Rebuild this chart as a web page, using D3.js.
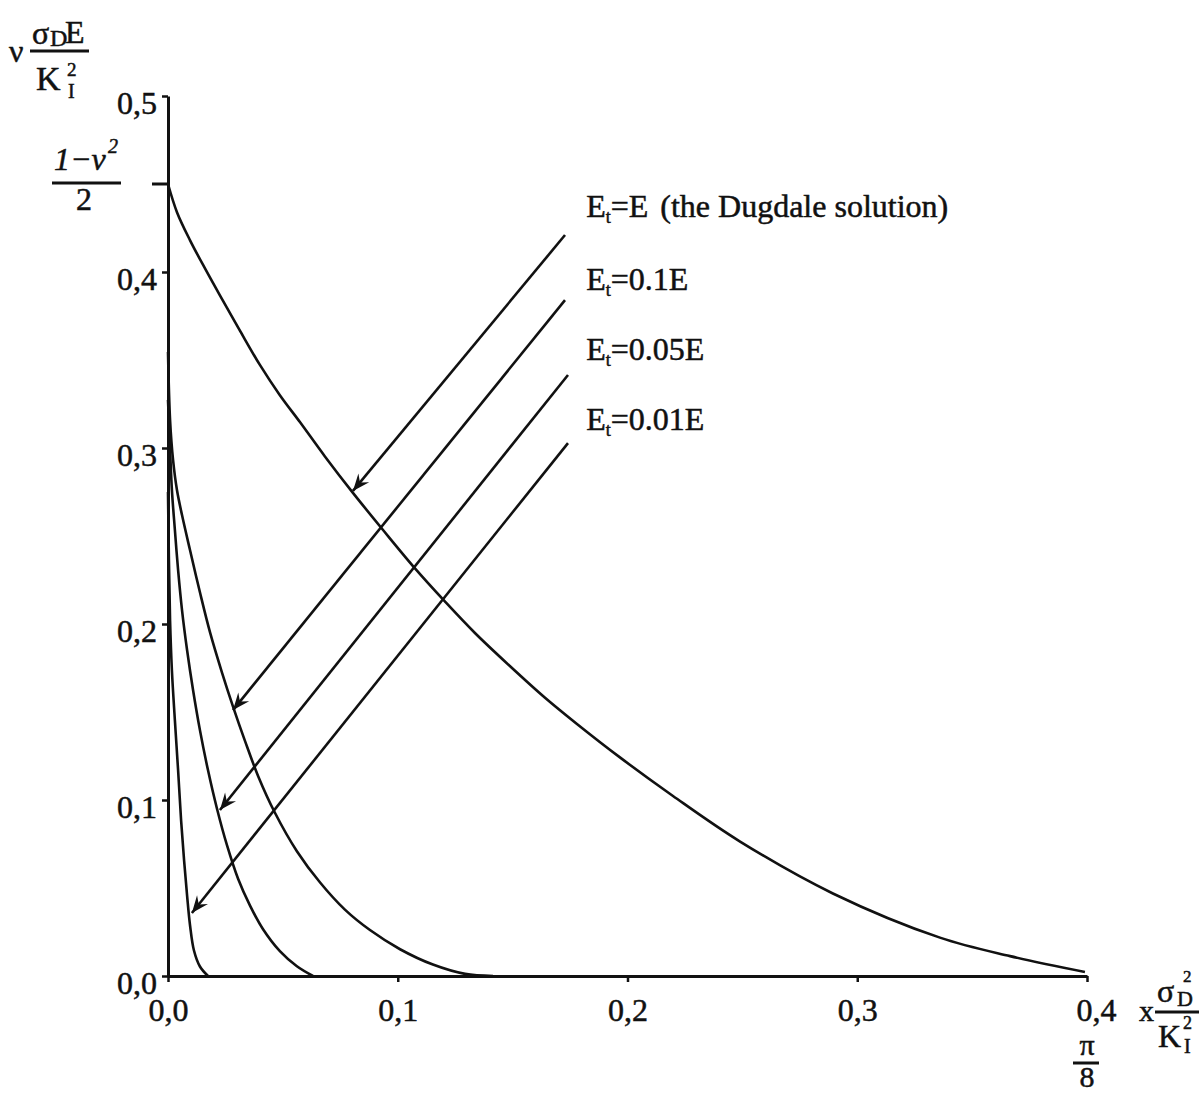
<!DOCTYPE html>
<html lang="en">
<head>
    <meta charset="UTF-8">
    <title>Crack opening: Dugdale vs hardening</title>
    <script src="https://d3js.org/d3.v7.min.js"></script>
    <style>
        body {
            margin: 0;
            padding: 0;
            background-color: white;
        }
        svg text {
            font-family: "Liberation Serif", "DejaVu Serif", serif;
            fill: #111;
            stroke: #111;
            stroke-width: 0.5px;
        }
    </style>
</head>
<body>
    <div id="chart"></div>
    <script>
        const width = 1201;
        const height = 1094;

        // tick values
        const xTicks = [0, 0.1, 0.2, 0.3, 0.4];
        const yTicks = [0, 0.1, 0.2, 0.3, 0.4, 0.5];
        const dugdaleLevel = 0.45; // (1 - nu^2) / 2

        // curves [x, y]
        const curveE = [[0, 0.45], [0.0039, 0.434], [0.0096, 0.418], [0.0161, 0.402], [0.0226, 0.3867],
            [0.0313, 0.3667], [0.040, 0.3472], [0.0487, 0.330], [0.0575, 0.3146], [0.0683, 0.2952],
            [0.0805, 0.2745], [0.0936, 0.2534], [0.1075, 0.2316], [0.1206, 0.2127], [0.1336, 0.1949],
            [0.1489, 0.176], [0.1641, 0.1581], [0.178, 0.1432], [0.1967, 0.1242], [0.2198, 0.1023],
            [0.249, 0.0764], [0.2894, 0.0469], [0.336, 0.0218], [0.3665, 0.0113], [0.3991, 0.0023]];
        const curve01E = [[0, 0.3545], [0.0009, 0.3159], [0.0022, 0.2932], [0.0039, 0.2761], [0.0061, 0.2619],
            [0.0096, 0.2419], [0.0139, 0.218], [0.0183, 0.1952], [0.0235, 0.1724], [0.0283, 0.1531],
            [0.0335, 0.1336], [0.0392, 0.1137], [0.0466, 0.0926], [0.0561, 0.0709], [0.0662, 0.0531],
            [0.077, 0.0377], [0.0879, 0.0261], [0.101, 0.0152], [0.1153, 0.0065], [0.1293, 0.0012], [0.1415, 0]];
        const curve005E = [[0, 0.3273], [0.0009, 0.2989], [0.0017, 0.2761], [0.003, 0.2534], [0.0044, 0.2306],
            [0.0061, 0.2079], [0.0083, 0.1852], [0.0109, 0.1625], [0.0139, 0.1397], [0.0174, 0.117],
            [0.0213, 0.0952], [0.0257, 0.0742], [0.0305, 0.0553], [0.0357, 0.04], [0.0413, 0.0267],
            [0.0487, 0.0141], [0.0561, 0.0055], [0.0631, 0]];
        const curve001E = [[0, 0.275], [0.0004, 0.236], [0.0009, 0.202], [0.0017, 0.1736], [0.003, 0.1452],
            [0.0044, 0.1168], [0.0057, 0.0884], [0.007, 0.0657], [0.0083, 0.0458], [0.0096, 0.0287],
            [0.0113, 0.0145], [0.0139, 0.0054], [0.0174, 0]];

        // arrows: start -> tip, and label anchor
        const arrowStarts = [[0.1728, 0.421], [0.1728, 0.384], [0.1741, 0.3415], [0.1741, 0.3028]];
        const arrowTips = [[0.0805, 0.2756], [0.0283, 0.1511], [0.0226, 0.0943], [0.0104, 0.0358]];
        const labelPos = [[0.182, 0.431], [0.182, 0.390], [0.182, 0.350], [0.182, 0.310]];
        const labelValues = ["E", "0.1E", "0.05E", "0.01E"];

        const x = d3.scaleLinear().domain([0, 0.4]).range([168, 1087]);
        const y = d3.scaleLinear().domain([0, 0.5]).range([976, 96]);
        const comma = v => d3.format(".1f")(v).replace(".", ",");

        const svg = d3.select("#chart")
            .append("svg")
            .attr("width", width)
            .attr("height", height);

        svg.append("defs").append("marker")
            .attr("id", "head")
            .attr("viewBox", "-18 -8 19 16")
            .attr("refX", 0)
            .attr("refY", 0)
            .attr("markerUnits", "userSpaceOnUse")
            .attr("markerWidth", 19)
            .attr("markerHeight", 16)
            .attr("orient", "auto")
            .append("path")
            .attr("d", "M0,0 L-17,-7 L-11,0 L-17,7 Z")
            .attr("fill", "#111");

        // axes
        const xAxis = svg.append("g")
            .attr("transform", `translate(0,${y(0)})`)
            .call(d3.axisBottom(x).tickValues(xTicks).tickFormat(comma)
                .tickSize(6).tickSizeOuter(0).tickPadding(16));
        const yAxis = svg.append("g")
            .attr("transform", `translate(${x(0)},0)`)
            .call(d3.axisLeft(y).tickValues(yTicks).tickFormat(comma)
                .tickSize(6).tickSizeOuter(0).tickPadding(5));

        [xAxis, yAxis].forEach(a => {
            a.select(".domain").attr("stroke", "#111").attr("stroke-width", 3);
            a.selectAll(".tick line").attr("stroke", "#111").attr("stroke-width", 2.5);
            a.selectAll(".tick text").style("font-size", "32px")
                .style("font-family", "'Liberation Serif', serif").attr("fill", "#111");
        });
        yAxis.selectAll(".tick text").attr("dy", "0.55em");
        xAxis.selectAll(".tick text").filter(d => d === 0.4).attr("dx", 9);

        // extra tick at (1-nu^2)/2
        svg.append("line")
            .attr("x1", x(0) - 16).attr("x2", x(0))
            .attr("y1", y(dugdaleLevel)).attr("y2", y(dugdaleLevel))
            .attr("stroke", "#111").attr("stroke-width", 3);

        // curves
        const line = d3.line()
            .x(d => x(d[0]))
            .y(d => y(d[1]))
            .curve(d3.curveCatmullRom.alpha(0.5));

        svg.append("g")
            .selectAll("path")
            .data([curveE, curve01E, curve005E, curve001E])
            .join("path")
            .attr("d", line)
            .attr("fill", "none")
            .attr("stroke", "#111")
            .attr("stroke-width", 2.6);

        // arrows
        svg.append("g")
            .selectAll("line")
            .data(arrowStarts)
            .join("line")
            .attr("x1", d => x(d[0]))
            .attr("y1", d => y(d[1]))
            .attr("x2", (d, i) => x(arrowTips[i][0]))
            .attr("y2", (d, i) => y(arrowTips[i][1]))
            .attr("stroke", "#111")
            .attr("stroke-width", 2.6)
            .attr("marker-end", "url(#head)");

        // series labels E_t = ...
        const labels = svg.append("g")
            .selectAll("text")
            .data(labelValues)
            .join("text")
            .attr("x", (d, i) => x(labelPos[i][0]))
            .attr("y", (d, i) => y(labelPos[i][1]))
            .style("font-size", "32px");
        labels.append("tspan").text("E");
        labels.append("tspan").text("t").style("font-size", "18px").attr("dy", 6);
        labels.append("tspan").text(d => "=" + d).attr("dy", -6);
        labels.filter((d, i) => i === 0).append("tspan")
            .attr("dx", 12)
            .text("(the Dugdale solution)");

        // formula pieces: one text element each, parts placed by tspans
        function formula(parts, anchor) {
            const t = svg.append("text");
            if (anchor) t.attr("text-anchor", anchor);
            parts.forEach(p => {
                const s = t.append("tspan")
                    .attr("x", p[1]).attr("y", p[2])
                    .style("font-size", p[3] + "px")
                    .text(p[0]);
                if (p[4]) s.style("font-style", "italic");
            });
            return t;
        }
        function bar(x1, x2, yy) {
            svg.append("line").attr("x1", x1).attr("x2", x2)
                .attr("y1", yy).attr("y2", yy)
                .attr("stroke", "#111").attr("stroke-width", 3);
        }

        // y title: nu * sigma_D E / K_I^2
        formula([["ν", 9, 62, 32]]);
        formula([["σ", 32, 44, 32], ["D", 50, 46, 24], ["E", 65, 43, 32]]);
        bar(30, 89, 51);
        formula([["K", 36, 90, 34], ["2", 67, 76, 19], ["I", 68, 98, 20]]);

        // (1 - nu^2) / 2 next to the axis
        formula([["1−ν", 54, 170, 32, true], ["2", 108, 153, 20, true]]);
        bar(52, 121, 183);
        formula([["2", 84, 210, 32]], "middle");

        // x title: x * sigma_D^2 / K_I^2
        formula([["x", 1139, 1021, 30]]);
        formula([["σ", 1157, 1002, 32]]);
        formula([["2", 1183, 982, 17]]);
        formula([["D", 1177, 1006, 22]]);
        bar(1155, 1199, 1012);
        formula([["K", 1158, 1047, 32], ["2", 1183, 1029, 18], ["I", 1184, 1053, 20]]);

        // pi/8 under 0.4
        formula([["π", x(0.4), 1055, 30]], "middle");
        bar(x(0.4) - 14, x(0.4) + 12, 1063);
        formula([["8", x(0.4), 1087, 30]], "middle");
    </script>
</body>
</html>
